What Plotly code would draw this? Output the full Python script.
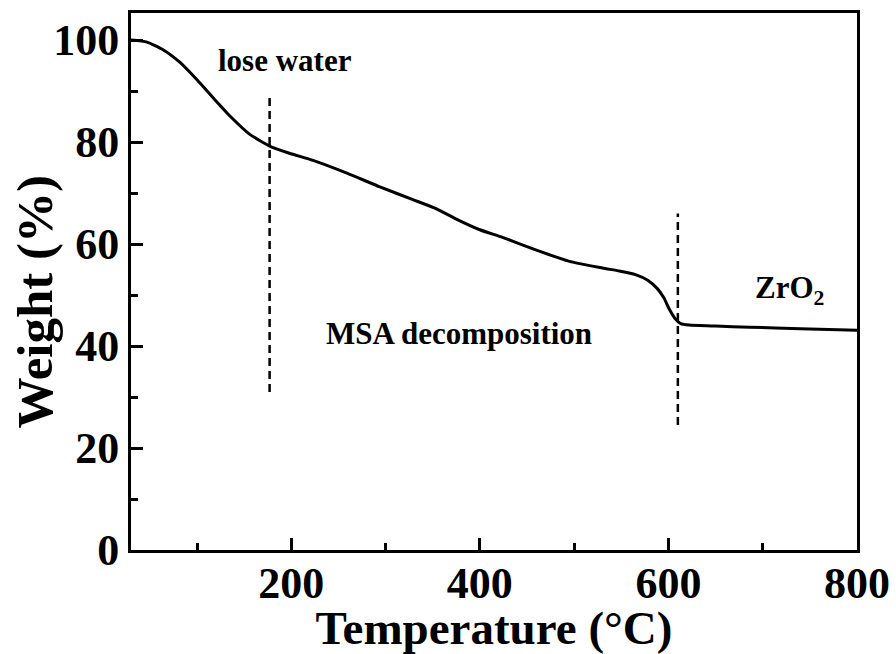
import plotly.graph_objects as go

# TGA curve of the MSA-modified zirconia precursor
temperature = [30, 47, 64, 82, 100, 118, 136, 156, 177, 198, 223, 259, 294, 329,
               354, 375, 400, 424, 460, 495, 530, 548, 565, 578, 588, 595, 601,
               607, 613, 622, 650, 686, 740, 800]
weight = [100, 99.6, 98.1, 95.6, 92.2, 88.5, 84.9, 81.5, 79.2, 77.8, 76.4, 73.9, 71.2,
          68.7, 66.9, 64.9, 62.8, 61.3, 58.8, 56.6, 55.3, 54.7, 54.0, 52.9, 51.3,
          49.5, 47.2, 45.4, 44.4, 44.1, 43.9, 43.7, 43.4, 43.1]

# stage boundaries (dashed markers)
boundary_x = [177, 610]
boundary_y0 = [31, 24.5]
boundary_y1 = [89, 66]

# stage labels
label_text = ["lose water", "MSA decomposition", "ZrO<sub>2</sub>"]
label_x = [193, 378, 728]
label_y = [96, 42.5, 51]

FONT = "Liberation Serif"

fig = go.Figure()
fig.add_trace(go.Scatter(
    x=temperature, y=weight, mode="lines",
    line=dict(color="black", width=3, shape="spline", smoothing=0.5),
    showlegend=False, hoverinfo="skip",
))

for bx, b0, b1 in zip(boundary_x, boundary_y0, boundary_y1):
    fig.add_trace(go.Scatter(
        x=[bx, bx], y=[b0, b1], mode="lines",
        line=dict(color="black", width=2.5, dash="8px,5px"),
        showlegend=False, hoverinfo="skip",
    ))

for t, lx, ly in zip(label_text, label_x, label_y):
    fig.add_annotation(x=lx, y=ly, text=f"<b>{t}</b>", showarrow=False,
                       font=dict(family=FONT, size=31, color="black"))

# y-axis title, set slightly below the plot's vertical centre
fig.add_annotation(
    xref="paper", yref="paper", x=-0.132, y=0.463, textangle=-90,
    xanchor="center", yanchor="middle",
    text="<b>Weight (%)</b>", showarrow=False,
    font=dict(family=FONT, size=51, color="black"),
)

axis_common = dict(
    showline=True, linecolor="black", linewidth=3, mirror=True,
    ticks="inside", tickwidth=3, ticklen=12, tickcolor="black",
    showgrid=False, zeroline=False,
    tickfont=dict(family=FONT, size=44, color="black", weight="bold"),
)

fig.update_xaxes(
    range=[30, 800], tickvals=[200, 400, 600, 800],
    minor=dict(tickvals=[100, 300, 500, 700], ticks="inside", ticklen=7,
               tickwidth=3, tickcolor="black"),
    ticklabelstandoff=-8,
    title_text="Temperature (°C)", title_standoff=0,
    title_font=dict(family=FONT, size=47, color="black", weight="bold"),
    **axis_common,
)
fig.update_yaxes(
    range=[0, 105.3], tickvals=[0, 20, 40, 60, 80, 100],
    minor=dict(tickvals=[10, 30, 50, 70, 90], ticks="inside", ticklen=7,
               tickwidth=3, tickcolor="black"),
    **axis_common,
)

fig.update_layout(
    width=896, height=654,
    margin=dict(l=131, r=39, t=13, b=104, autoexpand=False),
    plot_bgcolor="white", paper_bgcolor="white",
)

fig.write_html("out.html")
